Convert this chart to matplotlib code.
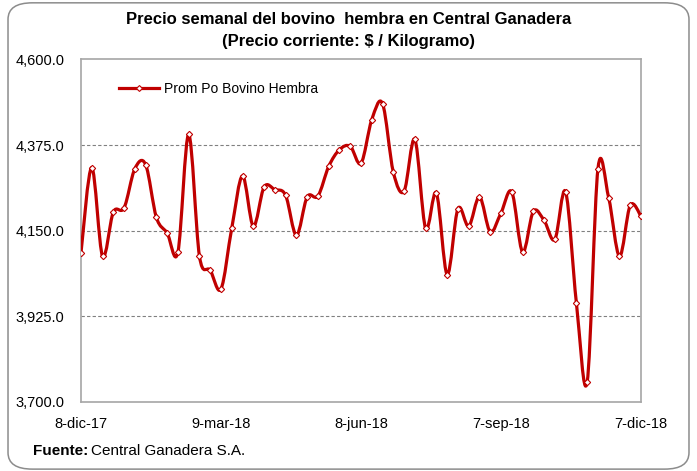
import numpy as np
import matplotlib
matplotlib.use('Agg')
import matplotlib.pyplot as plt
from matplotlib.path import Path
from matplotlib.patches import PathPatch, FancyBboxPatch
from matplotlib.lines import Line2D

# precio semanal (53 semanas, 8-dic-17 a 7-dic-18)
precios = [4092, 4316, 4083, 4199, 4210, 4313, 4324, 4185, 4144, 4094,
           4403, 4083, 4046, 3997, 4157, 4294, 4162, 4265, 4258, 4243,
           4138, 4239, 4241, 4319, 4363, 4372, 4327, 4442, 4484, 4304,
           4254, 4390, 4156, 4249, 4035, 4208, 4162, 4239, 4147, 4197,
           4252, 4094, 4201, 4177, 4127, 4252, 3960, 3753, 4313, 4236,
           4083, 4217, 4188]
tick_pos = [0, 13, 26, 39, 52]
tick_lab = ['8-dic-17', '9-mar-18', '8-jun-18', '7-sep-18', '7-dic-18']
y_ticks = [3700, 3925, 4150, 4375, 4600]

ROJO = '#C00000'
plt.rcParams['font.family'] = ['Liberation Sans', 'DejaVu Sans']
NARROW = ['Liberation Sans Narrow', 'Liberation Sans', 'DejaVu Sans']

fig = plt.figure(figsize=(6.97, 4.71), dpi=100)
fig.patches.append(FancyBboxPatch((0.0115, 0.004), 0.977, 0.99,
                                  boxstyle='round,pad=0,rounding_size=0.035',
                                  transform=fig.transFigure, fc='white',
                                  ec='#8c8c8c', lw=1.1, zorder=-1))

ax = fig.add_axes([0.1162, 0.1465, 0.8035, 0.7272])
x = np.arange(len(precios), dtype=float)
y = np.array(precios, dtype=float)

# línea suavizada (bezier tipo Excel)
verts = [(x[0], y[0])]
codes = [Path.MOVETO]
n = len(x)
for i in range(n - 1):
    p0 = np.array([x[max(i - 1, 0)], y[max(i - 1, 0)]])
    p1 = np.array([x[i], y[i]])
    p2 = np.array([x[i + 1], y[i + 1]])
    p3 = np.array([x[min(i + 2, n - 1)], y[min(i + 2, n - 1)]])
    c1 = p1 + (p2 - p0) / 6.0
    c2 = p2 - (p3 - p1) / 6.0
    verts += [tuple(c1), tuple(c2), tuple(p2)]
    codes += [Path.CURVE4] * 3
ax.add_patch(PathPatch(Path(verts, codes), fc='none', ec=ROJO, lw=2.3,
                       capstyle='round', joinstyle='round', zorder=3))
ax.plot(x, y, ls='none', marker='D', ms=3.2, mfc='white', mec=ROJO,
        mew=0.8, zorder=4)

ax.set_xlim(0, 52)
ax.set_ylim(3700, 4600)
ax.set_yticks(y_ticks)
ax.set_yticklabels([f'{v:,.1f}' for v in y_ticks], fontsize=10.5)
ax.set_xticks(tick_pos)
ax.set_xticklabels(tick_lab, fontsize=10.5)
ax.tick_params(axis='both', length=0)
ax.tick_params(axis='y', pad=12)
ax.tick_params(axis='x', pad=11)
for v in y_ticks[1:-1]:
    ax.axhline(v, color='#808080', lw=0.8, ls=(0, (3, 2)), zorder=1)
for s in ax.spines.values():
    s.set_color('#a6a6a6')
    s.set_linewidth(1.2)

leg_h = Line2D([], [], color=ROJO, lw=2.3, marker='D', ms=3.0,
               mfc='white', mec=ROJO, mew=0.8)
ax.legend([leg_h], ['Prom Po Bovino Hembra'], loc='center left',
          bbox_to_anchor=(0.068, 0.915), frameon=False, fontsize=10,
          handlelength=2.9, handletextpad=0.35, borderaxespad=0,
          borderpad=0)

fig.text(0.5, 0.958, 'Precio semanal del bovino  hembra en Central Ganadera',
         ha='center', va='center', fontsize=12, fontweight='bold', family=NARROW)
fig.text(0.5, 0.912, '(Precio corriente: $ / Kilogramo)',
         ha='center', va='center', fontsize=12, fontweight='bold', family=NARROW)

t1 = fig.text(0.047, 0.043, 'Fuente:', ha='left', va='center', fontsize=11,
              fontweight='bold', family=NARROW)
fig.canvas.draw()
bb = t1.get_window_extent().transformed(fig.transFigure.inverted())
fig.text(bb.x1 + 0.004, 0.043, 'Central Ganadera S.A.', ha='left',
         va='center', fontsize=11, family=NARROW)

fig.savefig('out.png', dpi=100)
